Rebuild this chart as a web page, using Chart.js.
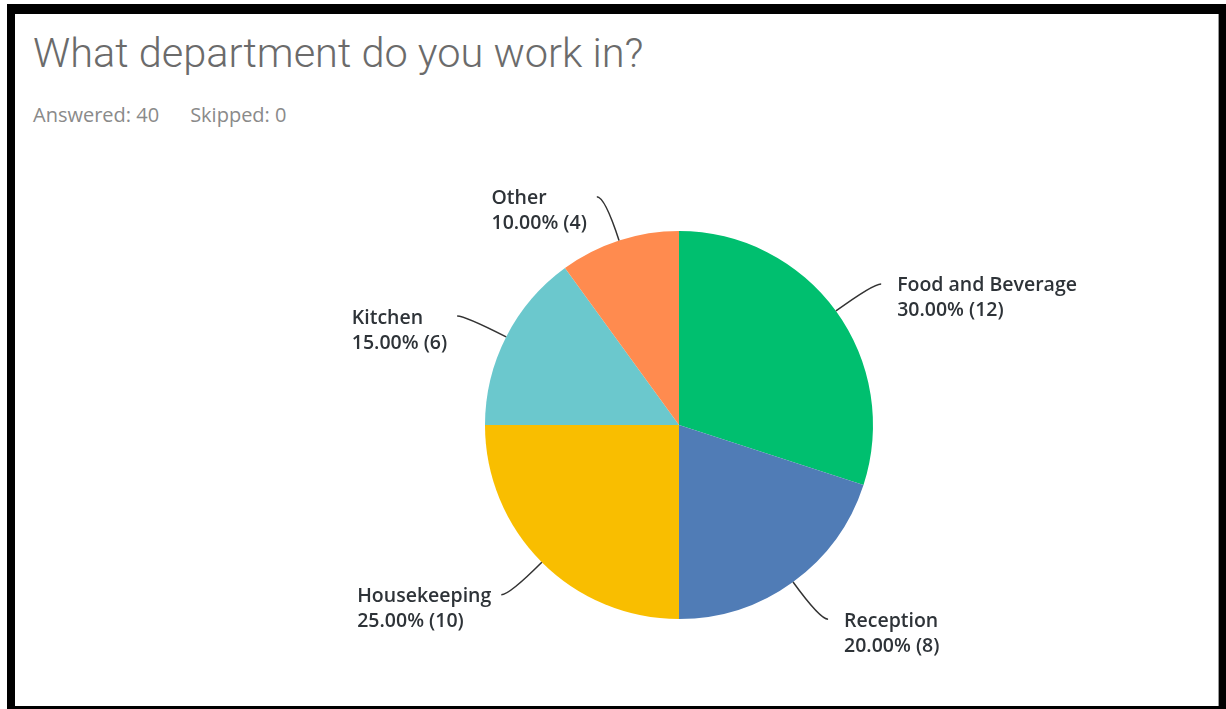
<!DOCTYPE html>
<html>
<head>
<meta charset="utf-8">
<script src="https://cdn.jsdelivr.net/npm/chart.js@4"></script>
<style>
  html, body { margin: 0; padding: 0; background: #fff; }
  body { width: 1226px; height: 709px; position: relative; overflow: hidden; font-family: "Open Sans", Roboto, sans-serif; }
  .frame {
    position: absolute; left: 7px; top: 4px; width: 1219px; height: 705px;
    box-sizing: border-box; border-style: solid; border-color: #000;
    border-width: 10px 7px 3px 8px;
    box-shadow: inset -1px 0 0 #999;
  }
  .title {
    position: absolute; left: 33px; top: 29px; margin: 0;
    font-family: Roboto, sans-serif;
    font-size: 41.5px; font-weight: 300; line-height: 48px; color: #6b6b6b;
  }
  .meta {
    position: absolute; left: 33px; top: 101px;
    font-size: 20px; line-height: 28px; color: #8a8a8a;
  }
  .meta span + span { margin-left: 31px; }
  #chartWrap { position: absolute; left: 0; top: 0; width: 1226px; height: 709px; }
</style>
</head>
<body>
<div class="frame"></div>
<h1 class="title">What department do you work in?</h1>
<div class="meta"><span>Answered: 40</span><span>Skipped: 0</span></div>
<div id="chartWrap"><canvas id="deptChart" width="1226" height="709"></canvas></div>

<script>
// answer choices, clockwise from 12 o'clock
const departments = ['Food and Beverage', 'Reception', 'Housekeeping', 'Kitchen', 'Other'];
const responses = [12, 8, 10, 6, 4];
const sliceColors = ['#00bf6f', '#507cb6', '#f9be00', '#6bc8cd', '#ff8b4f'];

const total = responses.reduce((a, b) => a + b, 0);

// leader lines + two-line labels next to each slice
const calloutLabels = {
    id: 'calloutLabels',
    afterDatasetsDraw(chart) {
        const ctx = chart.ctx;
        const arcs = chart.getDatasetMeta(0).data;
        ctx.save();
        ctx.font = '600 19.5px "Open Sans", Roboto, sans-serif';
        ctx.textBaseline = 'middle';
        arcs.forEach((arc, i) => {
            const { x, y, startAngle, endAngle, outerRadius } = arc.getProps(['x', 'y', 'startAngle', 'endAngle', 'outerRadius'], true);
            const mid = (startAngle + endAngle) / 2;
            const cx = Math.cos(mid), cy = Math.sin(mid);
            const right = cx >= 0;
            const p0 = { x: x + cx * outerRadius, y: y + cy * outerRadius };
            const p1 = { x: x + cx * (outerRadius + 46), y: y + cy * (outerRadius + 46) };
            const p2 = { x: p1.x + (right ? 8 : -8), y: p1.y };

            ctx.beginPath();
            ctx.moveTo(p0.x, p0.y);
            ctx.quadraticCurveTo(p1.x, p1.y, p2.x, p2.y);
            ctx.strokeStyle = '#333';
            ctx.lineWidth = 1.5;
            ctx.stroke();

            const line1 = departments[i];
            const pct = (responses[i] / total * 100).toFixed(2);
            const line2 = pct + '% (' + responses[i] + ')';
            const w = Math.max(ctx.measureText(line1).width, ctx.measureText(line2).width);
            const tx = right ? p2.x + 16 : p2.x - 10 - w;
            ctx.fillStyle = '#2e3338';
            ctx.textAlign = 'left';
            ctx.fillText(line1, tx, p2.y + 2);
            ctx.fillText(line2, tx, p2.y + 27);
        });
        ctx.restore();
    }
};

function createChart() {
    const ctx = document.getElementById('deptChart').getContext('2d');
    new Chart(ctx, {
        type: 'pie',
        data: {
            labels: departments,
            datasets: [{
                data: responses,
                backgroundColor: sliceColors,
                borderWidth: 0,
            }],
        },
        options: {
            responsive: false,
            animation: false,
            layout: { padding: { left: 485, right: 353, top: 231, bottom: 90 } },
            plugins: {
                legend: { display: false },
                tooltip: { enabled: false },
            },
        },
        plugins: [calloutLabels],
    });
}

window.addEventListener('load', createChart);
</script>
</body>
</html>
